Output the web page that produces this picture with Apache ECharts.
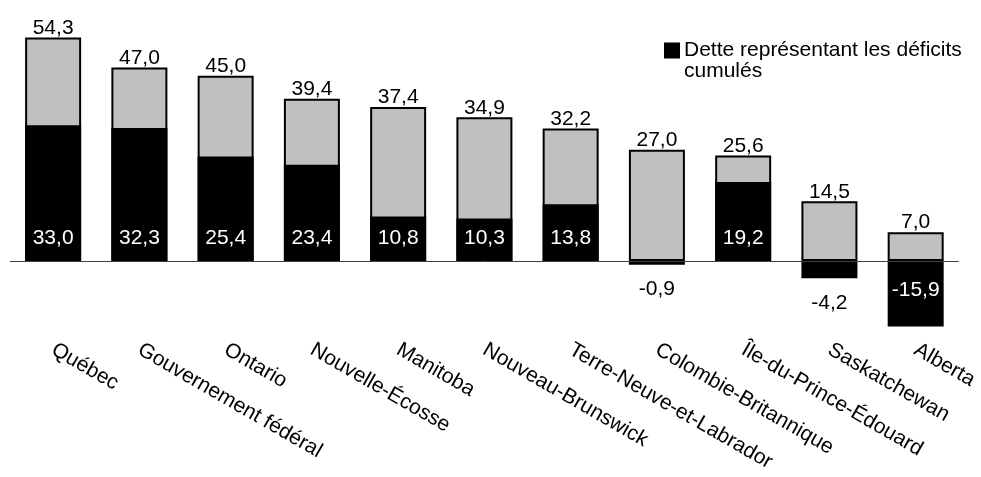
<!DOCTYPE html>
<html>
<head>
<meta charset="utf-8">
<script src="https://cdn.jsdelivr.net/npm/echarts@6/dist/echarts.min.js"></script>
<style>html,body{margin:0;padding:0;background:#fff}#c{width:981px;height:477px}</style>
</head>
<body>
<div id="c"></div>
<script>
const categories = ['Québec', 'Gouvernement fédéral', 'Ontario', 'Nouvelle-Écosse', 'Manitoba', 'Nouveau-Brunswick', 'Terre-Neuve-et-Labrador', 'Colombie-Britannique', 'Île-du-Prince-Édouard', 'Saskatchewan', 'Alberta'];
const totalDebt = [54.3, 47.0, 45.0, 39.4, 37.4, 34.9, 32.2, 27.0, 25.6, 14.5, 7.0];
const deficitDebt = [33.0, 32.3, 25.4, 23.4, 10.8, 10.3, 13.8, -0.9, 19.2, -4.2, -15.9];
const legendName = 'Dette représentant les déficits cumulés';

const FONT = 'Liberation Sans, Arial, sans-serif';
const FS = 21;
const fmt = v => v.toFixed(1).replace('.', ',');

function deficitLabel(v) {
  if (v >= 0) return { position: 'insideBottom', distance: 12, color: '#fff' };
  if (v > -10) return { position: 'bottom', distance: 14, color: '#000' };
  return { position: 'insideTop', distance: 19, color: '#fff' };
}

const chart = echarts.init(document.getElementById('c'), null, { renderer: 'canvas' });
chart.setOption({
  animation: false,
  backgroundColor: '#fff',
  textStyle: { fontFamily: FONT },
  grid: { left: 10, right: 19, top: 14, bottom: 133.7, containLabel: false },
  legend: {
    data: [legendName],
    left: 664, top: 19, padding: 0,
    itemWidth: 14, itemHeight: 14, icon: 'rect',
    formatter: () => '\nDette représentant les déficits\ncumulés',
    textStyle: { fontSize: FS, color: '#000', fontFamily: FONT, lineHeight: 21 }
  },
  xAxis: {
    type: 'category', data: categories,
    axisLine: { show: false, onZero: false }, axisTick: { show: false },
    axisLabel: { rotate: -30, margin: 5, fontSize: FS, color: '#000', fontFamily: FONT, interval: 0 }
  },
  yAxis: { type: 'value', min: -20, max: 60, show: false, splitLine: { show: false } },
  series: [
    {
      name: 'zero', type: 'line', data: [], z: 1, silent: true,
      markLine: { silent: true, symbol: 'none', label: { show: false },
        lineStyle: { color: '#404040', width: 1, type: 'solid' }, data: [{ yAxis: 0 }] }
    },
    {
      name: 'Dette totale', type: 'bar', z: 2, barWidth: 56, barGap: '-100%',
      data: totalDebt,
      itemStyle: { color: '#c0c0c0', borderColor: '#000', borderWidth: 2 },
      label: { show: true, position: 'top', distance: -1, fontSize: FS, color: '#000', fontFamily: FONT, formatter: p => fmt(p.value) }
    },
    {
      name: legendName, type: 'bar', z: 3, barWidth: 56, barGap: '-100%',
      data: deficitDebt.map(v => ({ value: v, label: deficitLabel(v) })),
      itemStyle: { color: '#000', borderColor: '#000', borderWidth: 2 },
      label: { show: true, fontSize: FS, fontFamily: FONT, formatter: p => fmt(p.value) }
    }
  ]
});
</script>
</body>
</html>
